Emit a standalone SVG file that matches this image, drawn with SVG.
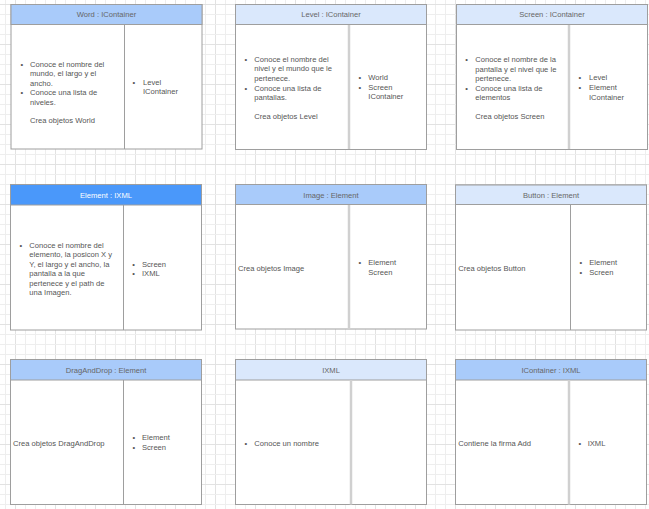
<svg xmlns="http://www.w3.org/2000/svg" width="649" height="509" viewBox="0 0 649 509">
<defs>
<pattern id="grid" patternUnits="userSpaceOnUse" x="5" y="4" width="40" height="40">
<rect width="40" height="40" fill="#ffffff"/>
<rect x="0" y="0" width="1" height="40" fill="#eeeeee"/>
<rect x="10" y="0" width="1" height="40" fill="#e2e2e2"/>
<rect x="20" y="0" width="1" height="40" fill="#eeeeee"/>
<rect x="30" y="0" width="1" height="40" fill="#eeeeee"/>
<rect x="0" y="0" width="40" height="1" fill="#e2e2e2"/>
<rect x="0" y="10" width="40" height="1" fill="#eeeeee"/>
<rect x="0" y="20" width="40" height="1" fill="#eeeeee"/>
<rect x="0" y="30" width="40" height="1" fill="#eeeeee"/>
</pattern>
</defs>
<style>
.frame{fill:#ffffff;stroke:#9e9e9e;stroke-width:1}
.hm{fill:#a9cbfa;stroke:#9e9e9e;stroke-width:1}
.hl{fill:#dae8fc;stroke:#9e9e9e;stroke-width:1}
.hd{fill:#4a98fa;stroke:#9e9e9e;stroke-width:1}
.dthin{stroke:#9e9e9e;stroke-width:1}
.dthick{stroke:#d0d0d0;stroke-width:2.5}
text{font-family:"Liberation Sans",Arial,sans-serif;font-size:7.6px;fill:#555555}
.th{fill:#666666;text-anchor:middle}
.tw{fill:#ffffff;text-anchor:middle}
</style>
<rect width="649" height="509" fill="url(#grid)"/>

<g id="word">
<rect class="frame" x="11" y="4.5" width="191" height="144.5"/>
<rect class="hm" x="11" y="4.5" width="191" height="20"/>
<line class="dthin" x1="124.5" y1="24.5" x2="124.5" y2="149"/>
<text class="th" x="106.5" y="17.3">Word : IContainer</text>
<text x="20.5" y="67">•</text><text x="30" y="67">Conoce el nombre del</text>
<text x="30" y="76.4">mundo, el largo y el</text>
<text x="30" y="85.8">ancho.</text>
<text x="20.5" y="95.2">•</text><text x="30" y="95.2">Conoce una lista de</text>
<text x="30" y="104.6">niveles.</text>
<text x="30" y="123.2">Crea objetos World</text>
<text x="132.5" y="85">•</text><text x="143" y="85">Level</text>
<text x="143" y="94.4">IContainer</text>
</g>

<g id="level">
<rect class="frame" x="235.5" y="4.5" width="191" height="145"/>
<rect class="hl" x="235.5" y="4.5" width="191" height="20"/>
<line class="dthick" x1="349" y1="25" x2="349" y2="149"/>
<text class="th" x="331" y="17.3">Level : IContainer</text>
<text x="244.5" y="61.7">•</text><text x="254.3" y="61.7">Conoce el nombre del</text>
<text x="254.3" y="71.3">nivel y el mundo que le</text>
<text x="254.3" y="80.9">pertenece.</text>
<text x="244.5" y="90.5">•</text><text x="254.3" y="90.5">Conoce una lista de</text>
<text x="254.3" y="100.1">pantallas.</text>
<text x="254.3" y="118.7">Crea objetos Level</text>
<text x="358.5" y="80.4">•</text><text x="368.3" y="80.4">World</text>
<text x="358.5" y="90.2">•</text><text x="368.3" y="90.2">Screen</text>
<text x="368.3" y="99.4">IContainer</text>
</g>

<g id="screen">
<rect class="frame" x="456.5" y="4.5" width="191" height="145"/>
<rect class="hl" x="456.5" y="4.5" width="191" height="20"/>
<line class="dthick" x1="569" y1="25" x2="569" y2="149"/>
<text class="th" x="552" y="17.3">Screen : IContainer</text>
<text x="465.3" y="61.7">•</text><text x="475.3" y="61.7">Conoce el nombre de la</text>
<text x="475.3" y="71.5">pantalla y el nivel que le</text>
<text x="475.3" y="81.2">pertenece.</text>
<text x="465.3" y="90.9">•</text><text x="475.3" y="90.9">Conoce una lista de</text>
<text x="475.3" y="100.4">elementos</text>
<text x="475.3" y="119">Crea objetos Screen</text>
<text x="578.5" y="80.4">•</text><text x="589" y="80.4">Level</text>
<text x="578.5" y="90.2">•</text><text x="589" y="90.2">Element</text>
<text x="589" y="99.6">IContainer</text>
</g>

<g id="element">
<rect class="frame" x="10.5" y="184.5" width="191" height="145.5"/>
<rect class="hd" x="10.5" y="184.5" width="191" height="20.5"/>
<line class="dthin" x1="123.5" y1="205" x2="123.5" y2="330"/>
<text class="tw" x="106" y="197.7">Element : IXML</text>
<text x="19.5" y="248">•</text><text x="29.3" y="248">Conoce el nombre del</text>
<text x="29.3" y="257.4">elemento, la posicon X y</text>
<text x="29.3" y="266.9">Y, el largo y el ancho, la</text>
<text x="29.3" y="276.4">pantalla a la que</text>
<text x="29.3" y="285.9">pertenece y el path de</text>
<text x="29.3" y="295.4">una Imagen.</text>
<text x="132.3" y="266.7">•</text><text x="142" y="266.7">Screen</text>
<text x="132.3" y="276">•</text><text x="142" y="276">IXML</text>
</g>

<g id="image">
<rect class="frame" x="235.5" y="184.5" width="191" height="144.5"/>
<rect class="hm" x="235.5" y="184.5" width="191" height="20"/>
<line class="dthick" x1="349" y1="205" x2="349" y2="329"/>
<text class="th" x="331" y="197.7">Image : Element</text>
<text x="238" y="270.7">Crea objetos Image</text>
<text x="358.5" y="265.4">•</text><text x="368.3" y="265.4">Element</text>
<text x="368.3" y="275">Screen</text>
</g>

<g id="button">
<rect class="frame" x="455.5" y="185" width="191" height="145"/>
<rect class="hl" x="455.5" y="185" width="191" height="19.5"/>
<line class="dthin" x1="570.5" y1="204.5" x2="570.5" y2="330"/>
<text class="th" x="551" y="197.7">Button : Element</text>
<text x="458.3" y="270.7">Crea objetos Button</text>
<text x="579.5" y="265.4">•</text><text x="589.3" y="265.4">Element</text>
<text x="579.5" y="274.7">•</text><text x="589.3" y="274.7">Screen</text>
</g>

<g id="draganddrop">
<rect class="frame" x="10.5" y="359.5" width="191" height="145"/>
<rect class="hm" x="10.5" y="359.5" width="191" height="20.5"/>
<line class="dthin" x1="123.5" y1="380" x2="123.5" y2="504.5"/>
<text class="th" x="106" y="372.7">DragAndDrop : Element</text>
<text x="13" y="445.7">Crea objetos DragAndDrop</text>
<text x="132.5" y="440.4">•</text><text x="142" y="440.4">Element</text>
<text x="132.5" y="450">•</text><text x="142" y="450">Screen</text>
</g>

<g id="ixml">
<rect class="frame" x="235.5" y="359.5" width="191" height="145"/>
<rect class="hl" x="235.5" y="359.5" width="191" height="20.5"/>
<line class="dthick" x1="351" y1="380" x2="351" y2="504.5"/>
<text class="th" x="331" y="372.7">IXML</text>
<text x="244.5" y="445.7">•</text><text x="254.3" y="445.7">Conoce un nombre</text>
</g>

<g id="icontainer">
<rect class="frame" x="455.5" y="359.5" width="191" height="145"/>
<rect class="hm" x="455.5" y="359.5" width="191" height="20.5"/>
<line class="dthick" x1="569" y1="380" x2="569" y2="504.5"/>
<text class="th" x="551" y="372.7">IContainer : IXML</text>
<text x="458.3" y="445.7">Contiene la firma Add</text>
<text x="578.5" y="445.7">•</text><text x="587.7" y="445.7">IXML</text>
</g>

<g id="connectors"></g>
</svg>
